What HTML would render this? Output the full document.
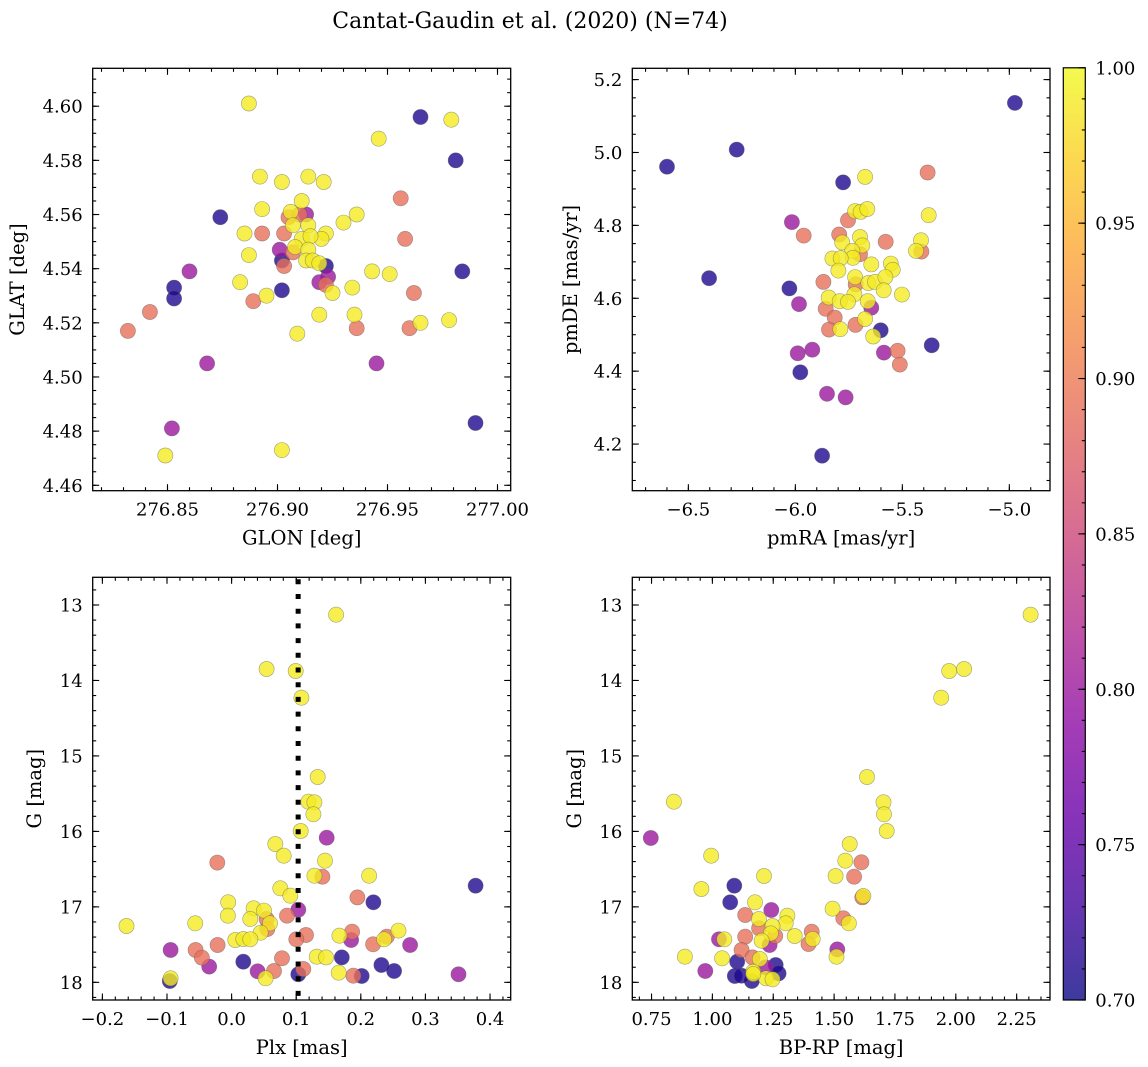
<!DOCTYPE html>
<html><head><meta charset="utf-8"><title>Cantat-Gaudin et al. (2020)</title>
<style>
html,body{margin:0;padding:0;background:#fff;}
svg{display:block;font-family:"DejaVu Serif","Liberation Serif",serif;}
</style></head>
<body>
<svg id="fig" width="1148" height="1067" viewBox="0 0 1148 1067" xmlns="http://www.w3.org/2000/svg">
<defs>
<linearGradient id="plasma" x1="0" y1="1" x2="0" y2="0">
<stop offset="0" stop-color="#0d0887"/><stop offset="0.1" stop-color="#41049d"/><stop offset="0.2" stop-color="#6a00a8"/><stop offset="0.3" stop-color="#8f0da4"/><stop offset="0.4" stop-color="#b12a90"/><stop offset="0.5" stop-color="#cc4778"/><stop offset="0.6" stop-color="#e16462"/><stop offset="0.7" stop-color="#f2844b"/><stop offset="0.8" stop-color="#fca636"/><stop offset="0.9" stop-color="#fcce25"/><stop offset="1" stop-color="#f0f921"/>
</linearGradient>
</defs>
<text x="530" y="28" font-size="22" text-anchor="middle">Cantat-Gaudin et al. (2020) (N=74)</text>
</svg>
<script>
// ---- Panel 1: GLON vs GLAT ----
const p1Glon=[276.887,276.965,276.979,276.946,276.981,276.892,276.902,276.914,276.921,276.956,276.911,276.893,276.906,276.874,276.905,276.910,276.913,276.907,276.914,276.930,276.936,276.885,276.893,276.903,276.922,276.920,276.911,276.915,276.958,276.901,276.908,276.907,276.914,276.902,276.913,276.916,276.919,276.887,276.903,276.922,276.860,276.943,276.951,276.984,276.923,276.919,276.922,276.853,276.883,276.902,276.934,276.925,276.962,276.853,276.895,276.889,276.842,276.919,276.935,276.832,276.909,276.936,276.960,276.965,276.978,276.868,276.945,276.990,276.852,276.849,276.902];
const p1Glat=[4.601,4.596,4.595,4.588,4.580,4.574,4.572,4.574,4.572,4.566,4.565,4.562,4.561,4.559,4.559,4.560,4.560,4.556,4.556,4.557,4.560,4.553,4.553,4.553,4.553,4.551,4.551,4.552,4.551,4.547,4.548,4.546,4.547,4.543,4.543,4.543,4.542,4.545,4.541,4.541,4.539,4.539,4.538,4.539,4.537,4.535,4.534,4.533,4.535,4.532,4.533,4.531,4.531,4.529,4.530,4.528,4.524,4.523,4.523,4.517,4.516,4.518,4.518,4.520,4.521,4.505,4.505,4.483,4.481,4.471,4.473];
const p1Prob=[0.99,0.71,0.99,0.99,0.71,0.99,0.99,0.99,0.99,0.89,0.99,0.99,0.99,0.71,0.89,0.89,0.80,0.99,0.99,0.99,0.99,0.99,0.89,0.89,0.99,0.99,0.99,0.99,0.89,0.80,0.99,0.89,0.99,0.71,0.99,0.99,0.99,0.99,0.89,0.71,0.80,0.99,0.99,0.71,0.80,0.80,0.89,0.71,0.99,0.71,0.99,0.99,0.89,0.71,0.99,0.89,0.89,0.99,0.99,0.89,0.99,0.89,0.89,0.99,0.99,0.80,0.80,0.71,0.80,0.99,0.99];
// ---- Panel 2: pmRA vs pmDE ----
const p2PmRA=[-4.974,-6.600,-6.274,-5.777,-5.674,-5.382,-5.721,-5.695,-5.664,-5.754,-5.377,-6.016,-5.961,-5.795,-5.781,-5.698,-5.687,-5.578,-5.413,-5.436,-5.411,-5.734,-5.698,-5.731,-5.827,-5.788,-5.645,-5.554,-5.545,-5.799,-6.403,-5.721,-5.869,-5.718,-5.659,-5.628,-5.579,-5.587,-5.502,-6.028,-5.844,-5.724,-5.793,-5.754,-5.662,-5.858,-5.983,-5.645,-5.816,-5.674,-5.719,-5.843,-5.790,-5.601,-5.636,-5.363,-5.989,-5.921,-5.586,-5.522,-5.512,-5.977,-5.852,-5.765,-5.875];
const p2PmDE=[5.136,4.961,5.008,4.918,4.933,4.945,4.839,4.837,4.845,4.814,4.828,4.809,4.772,4.775,4.753,4.768,4.745,4.755,4.759,4.730,4.728,4.730,4.721,4.711,4.709,4.710,4.693,4.695,4.678,4.676,4.655,4.658,4.645,4.638,4.642,4.645,4.658,4.622,4.610,4.627,4.602,4.611,4.592,4.590,4.592,4.571,4.584,4.574,4.547,4.543,4.527,4.514,4.515,4.512,4.495,4.471,4.449,4.459,4.451,4.456,4.418,4.397,4.338,4.328,4.168];
const p2Prob=[0.71,0.71,0.71,0.71,0.99,0.89,0.99,0.99,0.99,0.89,0.99,0.80,0.89,0.89,0.99,0.99,0.99,0.89,0.99,0.99,0.89,0.99,0.89,0.99,0.99,0.99,0.99,0.99,0.99,0.99,0.71,0.99,0.89,0.89,0.99,0.99,0.99,0.99,0.99,0.71,0.99,0.99,0.99,0.99,0.99,0.89,0.80,0.80,0.89,0.99,0.89,0.89,0.99,0.71,0.99,0.71,0.80,0.80,0.80,0.89,0.89,0.71,0.80,0.80,0.71];
// ---- Panel 3: Plx vs G ----
const p3Plx=[0.1617,0.0542,0.0992,0.108,0.1333,0.1188,0.1281,0.1266,0.1069,0.1472,0.0677,0.0806,-0.0222,0.1446,0.1281,0.1405,0.2128,0.3776,0.0754,0.0909,0.1947,0.2195,-0.0052,0.0341,0.1033,-0.0057,0.0501,0.0857,0.0542,0.0289,0.0594,-0.0563,-0.1627,0.0553,0.0449,0.2583,0.1865,0.2402,0.1668,0.1152,0.1002,0.2361,0.0057,0.0181,0.0289,0.1849,0.219,0.2763,-0.0217,-0.0945,-0.0558,-0.046,0.078,0.1317,0.1462,0.1705,0.0181,-0.0346,0.2319,0.2515,0.111,0.0656,0.0403,0.0527,0.1033,0.1658,0.1885,0.2014,0.3512,-0.0956,-0.0945];
const p3G=[13.128,13.848,13.875,14.228,15.279,15.606,15.615,15.774,15.995,16.083,16.167,16.322,16.414,16.388,16.587,16.600,16.587,16.719,16.754,16.852,16.874,16.940,16.940,17.019,17.037,17.117,17.050,17.117,17.161,17.161,17.218,17.218,17.254,17.293,17.342,17.315,17.329,17.395,17.382,17.373,17.430,17.430,17.439,17.426,17.430,17.439,17.496,17.505,17.505,17.572,17.572,17.673,17.682,17.660,17.669,17.669,17.726,17.792,17.770,17.850,17.823,17.850,17.854,17.947,17.894,17.872,17.912,17.916,17.894,17.982,17.947];
const p3Prob=[0.99,0.99,0.99,0.99,0.99,0.99,0.99,0.99,0.99,0.80,0.99,0.99,0.89,0.99,0.99,0.89,0.99,0.71,0.99,0.99,0.89,0.71,0.99,0.99,0.80,0.99,0.99,0.89,0.89,0.99,0.99,0.99,0.99,0.89,0.99,0.99,0.89,0.89,0.99,0.89,0.89,0.99,0.99,0.99,0.99,0.80,0.89,0.80,0.89,0.80,0.89,0.89,0.89,0.99,0.99,0.71,0.71,0.80,0.71,0.71,0.89,0.89,0.80,0.99,0.71,0.99,0.89,0.71,0.80,0.71,0.99];
const p3RefPlx=[0.103];
// ---- Panel 4: BP-RP vs G ----
const p4BpRp=[2.3075,1.973,2.034,1.940,1.635,0.842,1.703,1.705,1.716,0.747,1.564,0.995,1.546,1.612,1.506,1.582,1.212,1.090,0.955,1.616,1.620,1.073,1.175,1.494,1.242,1.135,1.308,1.191,1.538,1.561,1.301,1.247,1.192,1.408,1.338,1.135,1.240,1.258,1.027,1.049,1.202,1.395,1.412,1.235,1.120,1.513,1.510,0.887,1.040,1.165,1.195,1.102,1.260,1.218,0.971,1.168,1.272,1.092,1.162,1.220,1.247,1.120,1.168];
const p4G=[13.128,13.875,13.848,14.228,15.279,15.606,15.615,15.774,15.995,16.087,16.167,16.322,16.388,16.410,16.591,16.600,16.591,16.719,16.763,16.874,16.856,16.940,16.940,17.024,17.041,17.108,17.117,17.161,17.152,17.218,17.218,17.254,17.284,17.329,17.386,17.395,17.351,17.386,17.430,17.430,17.448,17.492,17.426,17.505,17.572,17.563,17.660,17.660,17.682,17.669,17.691,17.726,17.770,17.801,17.850,17.859,17.881,17.916,17.982,17.947,17.960,17.912,17.890];
const p4Prob=[0.99,0.99,0.99,0.99,0.99,0.99,0.99,0.99,0.99,0.80,0.99,0.99,0.99,0.89,0.99,0.89,0.99,0.71,0.99,0.89,0.99,0.71,0.99,0.99,0.80,0.89,0.99,0.99,0.89,0.99,0.99,0.99,0.89,0.89,0.99,0.89,0.99,0.89,0.80,0.99,0.99,0.89,0.99,0.80,0.89,0.80,0.99,0.99,0.99,0.89,0.99,0.71,0.71,0.80,0.80,0.99,0.71,0.71,0.71,0.99,0.99,0.71,0.99];
// ---- Colorbar ----
const cbarTicks=[0.70,0.75,0.80,0.85,0.90,0.95,1.00];

const NS="http://www.w3.org/2000/svg";
const svg=document.getElementById('fig');
const plasma=[[13,8,135],[65,4,157],[106,0,168],[143,13,164],[177,42,144],[204,71,120],[225,100,98],[242,132,75],[252,166,54],[252,206,37],[240,249,33]];
function cmap(p){let t=(p-0.7)/0.3;t=Math.max(0,Math.min(1,t));const s=t*10,i=Math.min(9,Math.floor(s)),f=s-i;const a=plasma[i],b=plasma[i+1];return 'rgb('+[0,1,2].map(k=>Math.round(a[k]+(b[k]-a[k])*f)).join(',')+')';}
function mk(tag,attrs,parent){const e=document.createElementNS(NS,tag);for(const k in attrs)e.setAttribute(k,attrs[k]);(parent||svg).appendChild(e);return e;}
function fmt(v,d){const s=Math.abs(v).toFixed(d);return (v<-1e-9?'\u2212':'')+s;}

function panel(cfg){
  const g=mk('g',{});
  
  
  const {x0,x1,y0,y1}=cfg.box;
  const sx=v=>x0+(v-cfg.xd[0])/(cfg.xd[1]-cfg.xd[0])*(x1-x0);
  const sy=cfg.invert? v=>y0+(v-cfg.yd[0])/(cfg.yd[1]-cfg.yd[0])*(y1-y0) : v=>y1-(v-cfg.yd[0])/(cfg.yd[1]-cfg.yd[0])*(y1-y0);
  const ymin=Math.min(...cfg.yd),ymax=Math.max(...cfg.yd);
  const idx=cfg.xs.map((_,i)=>i).sort((a,b)=>cfg.ps[a]-cfg.ps[b]);
  const pg=mk('g',{},g);
  
  
  idx.forEach(i=>{
    const c=mk('circle',{cx:sx(cfg.xs[i]).toFixed(1),cy:sy(cfg.ys[i]).toFixed(1),r:7.6,fill:cmap(cfg.ps[i]),'fill-opacity':0.8,stroke:'rgba(90,90,90,0.55)','stroke-width':0.6},pg);
    
    
  });
  if(cfg.vline){cfg.vline.forEach(v=>{
    const l=mk('line',{x1:sx(v),x2:sx(v),y1:y0+2,y2:y1,stroke:'#000','stroke-width':5,'stroke-dasharray':'5 9.7'},g);
    
    
  });}
  const tg=mk('g',{stroke:'#000','stroke-width':1.1},g);
  
  
  const e=1e-9;
  for(let k=Math.ceil(cfg.xd[0]/cfg.xmin-e);k*cfg.xmin<=cfg.xd[1]+e;k++){const v=k*cfg.xmin,x=sx(v);mk('line',{x1:x,x2:x,y1:y1,y2:y1-3.5},tg);mk('line',{x1:x,x2:x,y1:y0,y2:y0+3.5},tg);}
  for(let k=Math.ceil(ymin/cfg.ymin-e);k*cfg.ymin<=ymax+e;k++){const v=k*cfg.ymin,y=sy(v);mk('line',{x1:x0,x2:x0+3.5,y1:y,y2:y},tg);mk('line',{x1:x1,x2:x1-3.5,y1:y,y2:y},tg);}
  cfg.xt.forEach(v=>{const x=sx(v);mk('line',{x1:x,x2:x,y1:y1,y2:y1-6.5},tg);mk('line',{x1:x,x2:x,y1:y0,y2:y0+6.5},tg);
    const t=mk('text',{x:x,y:y1+25,'font-size':18,'text-anchor':'middle'},g);t.textContent=fmt(v,cfg.xdec);
    
    });
  cfg.yt.forEach(v=>{const y=sy(v);mk('line',{x1:x0,x2:x0+6.5,y1:y,y2:y},tg);mk('line',{x1:x1,x2:x1-6.5,y1:y,y2:y},tg);
    const t=mk('text',{x:x0-10,y:y+6.5,'font-size':18,'text-anchor':'end'},g);t.textContent=fmt(v,cfg.ydec);
    
    });
  const fr=mk('rect',{x:x0,y:y0,width:x1-x0,height:y1-y0,fill:'none',stroke:'#000','stroke-width':1.3},g);
  
  
  const xl=mk('text',{x:(x0+x1)/2,y:y1+54,'font-size':19.5,'text-anchor':'middle'},g);xl.textContent=cfg.xlab;
  
  
  const ly=(y0+y1)/2;
  const yl=mk('text',{x:cfg.ylx,y:ly,'font-size':19.5,'text-anchor':'middle',transform:'rotate(-90 '+cfg.ylx+' '+ly+')'},g);yl.textContent=cfg.ylab;
  
  
}

panel({name:'glon-glat-panel',box:{x0:92.7,x1:510.7,y0:68.3,y1:490.7},xd:[276.816,277.006],yd:[4.458,4.614],xs:p1Glon,ys:p1Glat,ps:p1Prob,
  xt:[276.85,276.90,276.95,277.00],yt:[4.46,4.48,4.50,4.52,4.54,4.56,4.58,4.60],xmin:0.01,ymin:0.005,xdec:2,ydec:2,xlab:'GLON [deg]',ylab:'GLAT [deg]',ylx:24});
panel({name:'pm-panel',box:{x0:632.3,x1:1050,y0:68.3,y1:490.7},xd:[-6.762,-4.810],yd:[4.072,5.231],xs:p2PmRA,ys:p2PmDE,ps:p2Prob,
  xt:[-6.5,-6.0,-5.5,-5.0],yt:[4.2,4.4,4.6,4.8,5.0,5.2],xmin:0.1,ymin:0.05,xdec:1,ydec:1,xlab:'pmRA [mas/yr]',ylab:'pmDE [mas/yr]',ylx:577});
panel({name:'plx-g-panel',box:{x0:92.7,x1:510.7,y0:577.3,y1:1000},xd:[-0.215,0.432],yd:[12.633,18.234],invert:true,xs:p3Plx,ys:p3G,ps:p3Prob,vline:p3RefPlx,
  xt:[-0.2,-0.1,0.0,0.1,0.2,0.3,0.4],yt:[13,14,15,16,17,18],xmin:0.02,ymin:0.2,xdec:1,ydec:0,xlab:'Plx [mas]',ylab:'G [mag]',ylx:41});
panel({name:'cmd-panel',box:{x0:632.3,x1:1050,y0:577.3,y1:1000},xd:[0.671,2.387],yd:[12.633,18.234],invert:true,xs:p4BpRp,ys:p4G,ps:p4Prob,
  xt:[0.75,1.00,1.25,1.50,1.75,2.00,2.25],yt:[13,14,15,16,17,18],xmin:0.05,ymin:0.2,xdec:2,ydec:0,xlab:'BP-RP [mag]',ylab:'G [mag]',ylx:581});

(function(){
  const cx0=1063.3,cx1=1085.3,cy0=67.8,cy1=1000;
  const g=mk('g',{});
  
  
  mk('rect',{x:cx0,y:cy0,width:cx1-cx0,height:cy1-cy0,fill:'url(#plasma)','fill-opacity':0.8},g);
  mk('rect',{x:cx0,y:cy0,width:cx1-cx0,height:cy1-cy0,fill:'none',stroke:'#000','stroke-width':1.2},g);
  const sc=v=>cy1-(v-0.7)/0.3*(cy1-cy0);
  for(let k=70;k<=100;k++){const y=sc(k/100);mk('line',{x1:cx1,x2:cx1-3.5,y1:y,y2:y,stroke:'#000','stroke-width':1.1},g);}
  cbarTicks.forEach(v=>{const y=sc(v);mk('line',{x1:cx1,x2:cx1-7,y1:y,y2:y,stroke:'#000','stroke-width':1.1},g);
    const t=mk('text',{x:cx1+10,y:y+6.5,'font-size':18},g);t.textContent=v.toFixed(2);
    
    });
})();
</script>
</body></html>
